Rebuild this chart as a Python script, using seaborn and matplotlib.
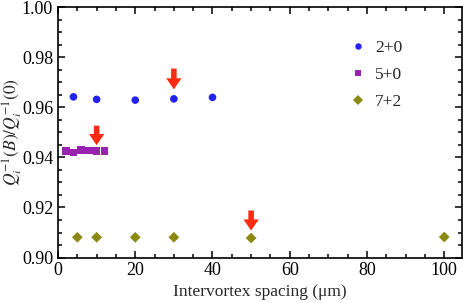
import numpy as np
import pandas as pd
import matplotlib
matplotlib.use("Agg")
import matplotlib.pyplot as plt
import seaborn as sns
from matplotlib.ticker import MultipleLocator

# ---- data ----
x_20 = [4, 10, 20, 30, 40]
y_20 = [0.9642, 0.9632, 0.9629, 0.9634, 0.9640]
x_50 = [2, 4, 6, 8, 10, 12]
y_50 = [0.9426, 0.9420, 0.9429, 0.9428, 0.9425, 0.9425]
x_72 = [5, 10, 20, 30, 50, 100]
y_72 = [0.9081, 0.9081, 0.9081, 0.9081, 0.9078, 0.9082]
series = ["2+0", "5+0", "7+2"]
arrow_x = [10, 30, 50]
arrow_top = [0.9527, 0.9755, 0.9188]
arrow_tip = [0.9449, 0.9672, 0.9108]

df = pd.DataFrame({
    "x": x_20 + x_50 + x_72,
    "y": y_20 + y_50 + y_72,
    "series": [series[0]] * len(x_20) + [series[1]] * len(x_50) + [series[2]] * len(x_72),
})

sns.set_style("ticks")
plt.rcParams["font.family"] = ["Liberation Serif", "DejaVu Serif"]
plt.rcParams["mathtext.fontset"] = "stix"

fig = plt.figure(figsize=(4.64, 3.03), dpi=100)
ax = fig.add_axes([0.125, 0.150, 0.8707, 0.826])

palette = {"2+0": "#2222f2", "5+0": "#9a22b0", "7+2": "#8a8a12"}
markers = {"2+0": "o", "5+0": "s", "7+2": "D"}
sns.scatterplot(data=df, x="x", y="y", hue="series", style="series",
                palette=palette, markers=markers, s=30, linewidth=0,
                ax=ax, legend=True)

for xa, yt, yb in zip(arrow_x, arrow_top, arrow_tip):
    ax.annotate("", xy=(xa, yb), xytext=(xa, yt),
                arrowprops=dict(arrowstyle="simple,head_length=0.8,head_width=1.1,tail_width=0.4",
                                color="#ff2a12", lw=0, shrinkA=0, shrinkB=0))

ax.set_xlim(0, 104.6)
ax.set_ylim(0.90, 1.00)
ax.xaxis.set_major_locator(MultipleLocator(20))
ax.xaxis.set_minor_locator(MultipleLocator(5))
ax.yaxis.set_major_locator(MultipleLocator(0.02))
ax.yaxis.set_minor_locator(MultipleLocator(0.005))
ax.yaxis.set_major_formatter(matplotlib.ticker.FormatStrFormatter("%.2f"))
ax.tick_params(which="both", direction="in", top=True, right=True, width=1.1,
               labelsize=13, colors="black")
ax.tick_params(which="major", length=5)
ax.tick_params(which="minor", length=3)
for sp in ax.spines.values():
    sp.set_linewidth(1.2)
    sp.set_color("black")

ax.set_xlabel("Intervortex spacing (μm)", fontsize=12.5, labelpad=3)
ax.set_ylabel(r"$Q_i^{-1}(B)/Q_i^{-1}(0)$", fontsize=12.5, va="center")
ax.yaxis.set_label_coords(-0.113, 0.5)

leg = ax.legend(loc="upper left", bbox_to_anchor=(0.72, 0.87), frameon=False,
                fontsize=12.5, markerscale=0.85, handlelength=1.0, handletextpad=0.5,
                labelspacing=0.62, borderaxespad=0, borderpad=0)

fig.savefig("out.png", dpi=100)
